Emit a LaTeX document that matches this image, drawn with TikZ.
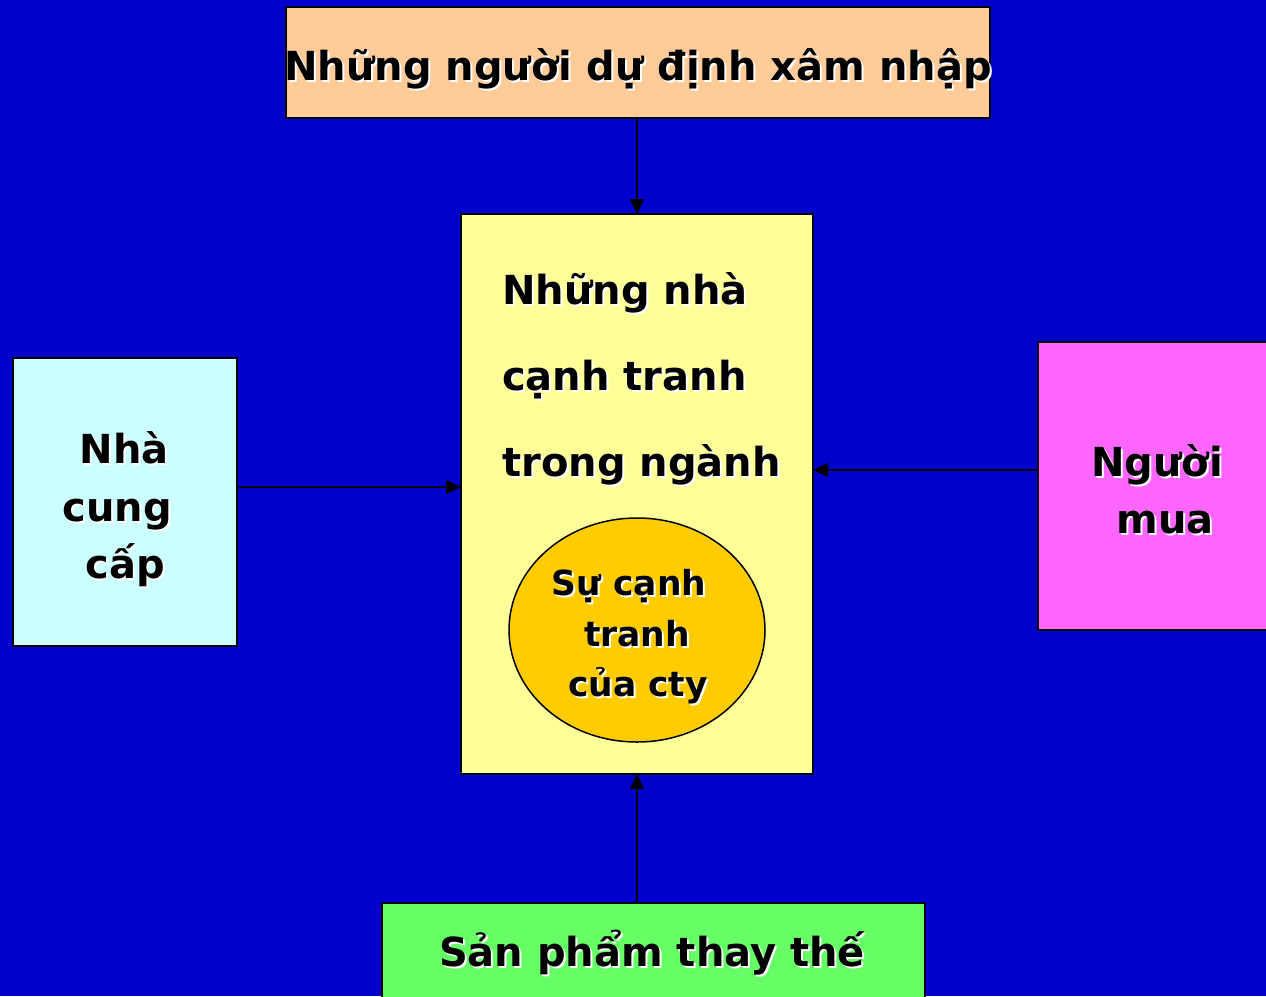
\documentclass[tikz,border=0pt]{standalone}
\usepackage{fontspec}
\setmainfont{DejaVu Sans}
\usetikzlibrary{calc,arrows.meta,shapes.geometric}
\definecolor{bgblue}{RGB}{0,0,204}
\definecolor{peach}{RGB}{255,204,153}
\definecolor{paleyellow}{RGB}{255,255,153}
\definecolor{paleteal}{RGB}{204,255,255}
\definecolor{pinkish}{RGB}{255,102,255}
\definecolor{lightgreen}{RGB}{102,255,102}
\definecolor{gold}{RGB}{255,204,0}
% text with a white drop shadow: a white copy first, then the black text
\newcommand\shnode[4]{%
  \node[#3,text=white] (#1-sh) at ($(#2)+(2,2)$) {#4};
  \node[#3,text=black] (#1) at (#2) {#4};
}
\begin{document}
\begin{tikzpicture}[x=1pt,y=-1pt,
  box/.style={draw=black,line width=1.5pt},
  link/.style={draw=black,line width=1.6pt,-{Triangle[length=15pt,width=14pt]}},
  big/.style={font=\bfseries\fontsize{40}{48}\selectfont,inner sep=0pt},
  small/.style={font=\bfseries\fontsize{34.5}{40}\selectfont,inner sep=0pt}]
\fill[bgblue] (0,0) rectangle (1266,996);
\useasboundingbox (0,0) rectangle (1266,996);

% boxes
\path[box,fill=peach] (286,7) rectangle (990,118);
\path[box,fill=paleyellow] (461,214) rectangle (813,774);
\path[box,fill=paleteal] (13,358) rectangle (237,646);
\path[box,fill=pinkish] (1038,342) rectangle (1270,630);
\path[box,fill=lightgreen] (382,903) rectangle (925,1000);
\node[draw=black,line width=1.5pt,fill=gold,ellipse,minimum width=256pt,minimum height=224pt,inner sep=0pt] (firm) at (637,630) {};

% anchor points on the box edges
\coordinate (entT) at (637,118);
\coordinate (indT) at (637,214);
\coordinate (indB) at (637,774);
\coordinate (indL) at (461,487);
\coordinate (indR) at (813,470);
\coordinate (supR) at (237,487);
\coordinate (buyL) at (1038,470);
\coordinate (subT) at (637,903);

% connectors
\draw[link] (entT) -- (indT);
\draw[link] (supR) -- (indL);
\draw[link] (buyL) -- (indR);
\draw[link] (subT) -- (indB);

% labels
\shnode{entrants}{638,80}{big,anchor=base}{Những người dự định xâm nhập}
\shnode{rivA}{502,304}{big,anchor=base west}{Những nhà}
\shnode{rivB}{502,390}{big,anchor=base west}{cạnh tranh}
\shnode{rivC}{502,476}{big,anchor=base west}{trong ngành}
\shnode{supA}{124,463}{big,anchor=base}{Nhà}
\shnode{supB}{117,521}{big,anchor=base}{cung}
\shnode{supC}{125,578}{big,anchor=base}{cấp}
\shnode{buyA}{1157,476}{big,anchor=base}{Người}
\shnode{buyB}{1165,533}{big,anchor=base}{mua}
\shnode{firmA}{629,595}{small,anchor=base}{Sự cạnh}
\shnode{firmB}{637,646}{small,anchor=base}{tranh}
\shnode{firmC}{638,696}{small,anchor=base}{của cty}
\shnode{subst}{652,966}{big,anchor=base}{Sản phẩm thay thế}
\end{tikzpicture}
\end{document}
